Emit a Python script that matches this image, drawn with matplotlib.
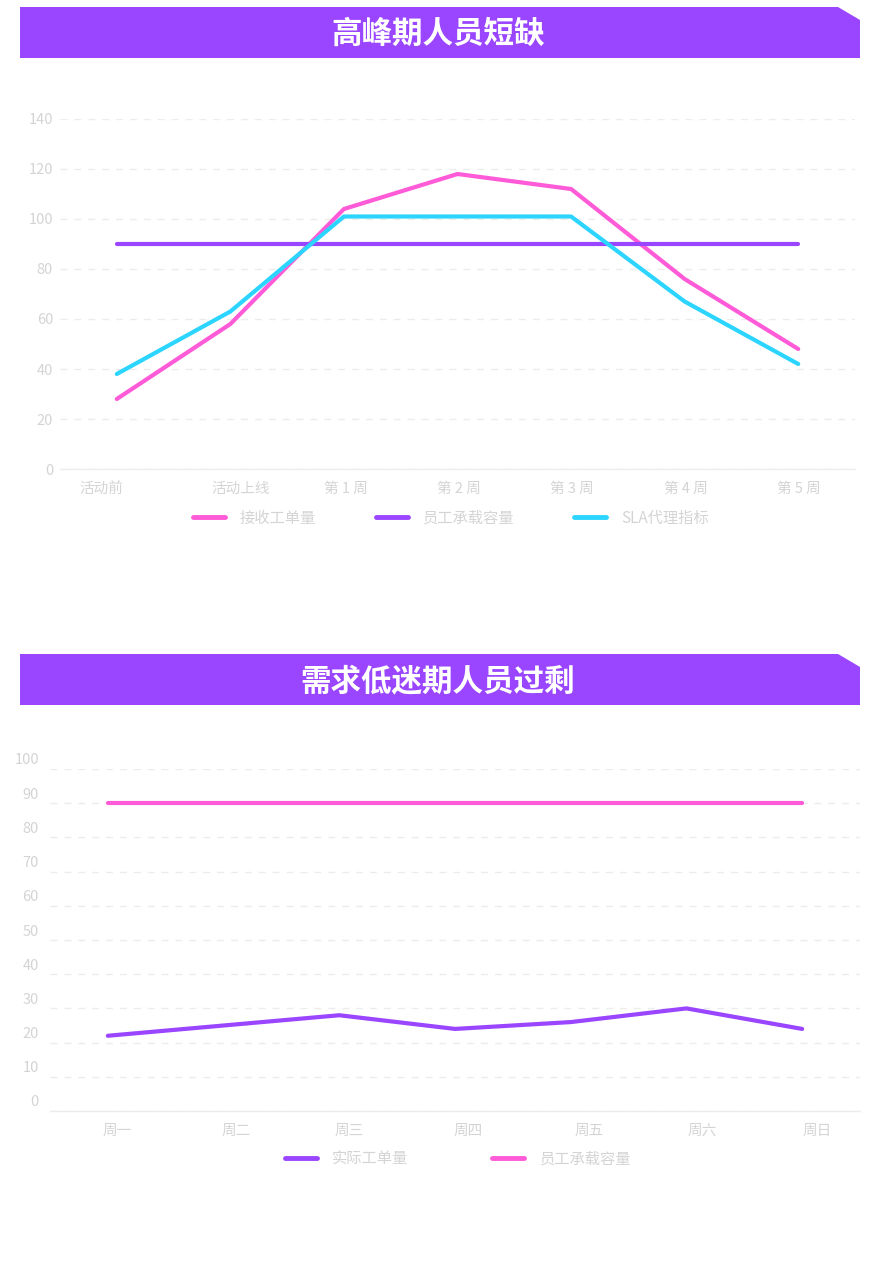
import matplotlib
matplotlib.use("Agg")
import matplotlib.pyplot as plt
from matplotlib.patches import Polygon
from matplotlib.transforms import ScaledTranslation

plt.rcParams['font.family'] = ['Noto Sans CJK SC', 'DejaVu Sans']

# chart 1: peak period shortage
peak_labels = ['活动前', '活动上线', '第 1 周', '第 2 周', '第 3 周', '第 4 周', '第 5 周']
peak_orders = [28, 58, 104, 118, 112, 76, 48]
peak_capacity = [90, 90, 90, 90, 90, 90, 90]
peak_sla = [38, 63, 101, 101, 101, 67, 42]

# chart 2: low demand surplus
low_labels = ['周一', '周二', '周三', '周四', '周五', '周六', '周日']
low_orders = [22, 25, 28, 24, 26, 30, 24]
low_capacity = [90, 90, 90, 90, 90, 90, 90]

PINK = '#FF5AD7'
PURPLE = '#9A45FF'
CYAN = '#2CD5FF'
TXT = '#d4d4d4'
GRID = '#ececec'

W, H = 885, 1275
fig = plt.figure(figsize=(W / 100, H / 100), dpi=100)


def px(x, y):
    return x / W, 1 - y / H


def banner(top, text):
    x0, x1, bot = 20, 860, top + 51
    pts = [px(x0, top), px(x1 - 22, top), px(x1, top + 13), px(x1, bot), px(x0, bot)]
    fig.add_artist(Polygon(pts, closed=True, transform=fig.transFigure,
                           facecolor=PURPLE, edgecolor='none'))
    cx, cy = px((x0 + x1) / 2 - 2, top + 27)
    fig.text(cx, cy, text, color='white', fontsize=22, fontweight='heavy',
             ha='center', va='center')


def style_axes(ax, ymax, step, ylab_shift, xlab_shifts, ypad):
    ax.set_ylim(0, ymax)
    ax.set_xlim(-0.5, 6.5)
    ax.set_yticks(range(0, ymax + 1, step))
    for s in ['top', 'right', 'left']:
        ax.spines[s].set_visible(False)
    ax.spines['bottom'].set_color(GRID)
    ax.spines['bottom'].set_linewidth(1)
    ax.yaxis.grid(True, color=GRID, linestyle=(0, (5, 5)), linewidth=1)
    ax.set_axisbelow(True)
    ax.tick_params(axis='both', length=0, colors=TXT, labelsize=10.5)
    ax.tick_params(axis='x', pad=9)
    ax.tick_params(axis='y', pad=ypad)
    for lab in ax.get_yticklabels():
        lab.set_transform(lab.get_transform() + ScaledTranslation(0, ylab_shift / 100, fig.dpi_scale_trans))
    for lab, dx in zip(ax.get_xticklabels(), xlab_shifts):
        lab.set_transform(lab.get_transform() + ScaledTranslation(dx / 100, 0, fig.dpi_scale_trans))


# --- top chart ---
banner(7, '高峰期人员短缺')
l, b = px(60, 469)
r, t = px(855, 119)
ax1 = fig.add_axes([l, b, r - l, t - b])
x1 = range(len(peak_labels))
ax1.plot(x1, peak_orders, color=PINK, lw=3, label='接收工单量', solid_capstyle='round')
ax1.plot(x1, peak_capacity, color=PURPLE, lw=3, label='员工承载容量', solid_capstyle='round')
ax1.plot(x1, peak_sla, color=CYAN, lw=3, label='SLA代理指标', solid_capstyle='round')
ax1.set_xticks(list(x1))
ax1.set_xticklabels(peak_labels)
style_axes(ax1, 140, 20, 0, [-15, 10, 2, 1, 1, 1, 1], 5)
leg1 = ax1.legend(loc='center', bbox_to_anchor=(px(451, 518)), bbox_transform=fig.transFigure,
                  ncol=3, frameon=False, fontsize=11, handlelength=2.1, handletextpad=1.0,
                  columnspacing=3.9, labelcolor=TXT)
for h in leg1.get_lines():
    h.set_linewidth(3.5)

# --- bottom chart ---
banner(654, '需求低迷期人员过剩')
l, b = px(50, 1111)
r, t = px(860, 769)
ax2 = fig.add_axes([l, b, r - l, t - b])
x2 = range(len(low_labels))
ax2.plot(x2, low_orders, color=PURPLE, lw=3, label='实际工单量', solid_capstyle='round')
ax2.plot(x2, low_capacity, color=PINK, lw=3, label='员工承载容量', solid_capstyle='round')
ax2.set_xticks(list(x2))
ax2.set_xticklabels(low_labels)
style_axes(ax2, 100, 10, 10, [9, 13, 10, 13, 18, 16, 15], 8)
leg2 = ax2.legend(loc='center', bbox_to_anchor=(px(458, 1159)), bbox_transform=fig.transFigure,
                  ncol=2, frameon=False, fontsize=11, handlelength=2.1, handletextpad=1.0,
                  columnspacing=5.5, labelcolor=TXT)
for h in leg2.get_lines():
    h.set_linewidth(3.5)

fig.savefig('out.png', dpi=100, facecolor='white')
